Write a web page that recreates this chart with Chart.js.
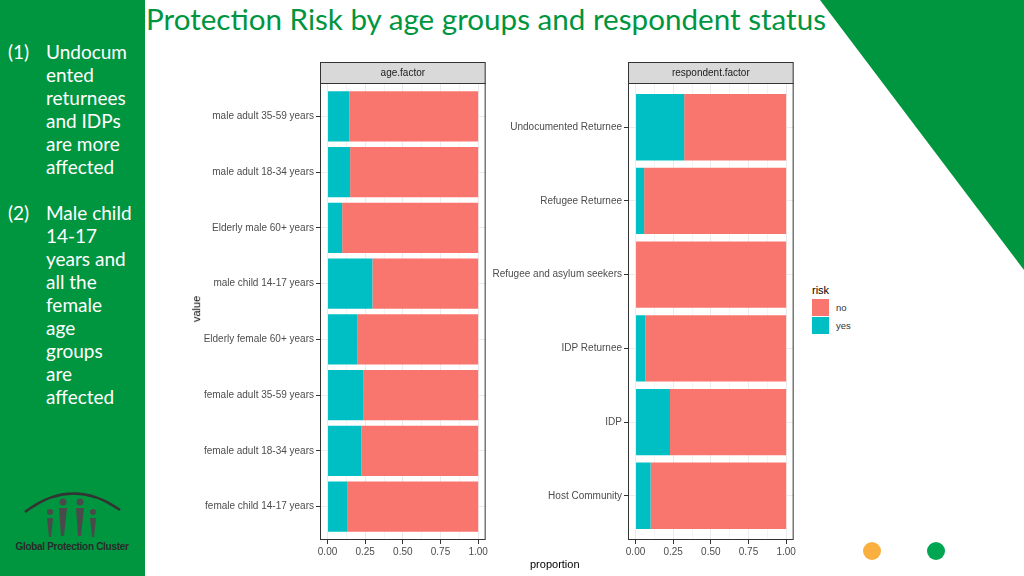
<!DOCTYPE html>
<html>
<head>
<meta charset="utf-8">
<script src="https://cdn.jsdelivr.net/npm/chart.js@4.4.1/dist/chart.umd.min.js"></script>
<style>
  body { margin: 0; width: 1024px; height: 576px; position: relative; overflow: hidden; background: #fff; font-family: "Liberation Sans", Arial, sans-serif; }
  #side { position: absolute; left: 0; top: 0; width: 145px; height: 576px; background: #00953f; }
  #notes { position: absolute; left: 8px; top: 40px; color: #fff; font-family: Lato, sans-serif; font-size: 19px; line-height: 23px; }
  .note { display: flex; margin-bottom: 23px; }
  .note .num { width: 38px; flex: none; }
  #title { position: absolute; left: 146px; top: 1px; color: #00953f; font-family: Lato, sans-serif; font-size: 29.6px; white-space: nowrap; }
  #deco { position: absolute; left: 0; top: 0; }
  .panel { position: absolute; }
  .axis-title { position: absolute; font-size: 11px; color: #000; }
  #legend { position: absolute; left: 812px; top: 284px; font-size: 11px; color: #000; }
  #legend .row { display: flex; align-items: center; height: 18px; font-size: 9.5px; color: #333; }
  #legend .key { width: 17px; height: 17px; margin-right: 7px; }
</style>
</head>
<body>
<div id="side"></div>
<svg id="deco" width="1024" height="576">
  <polygon points="820,0 1024,0 1024,270" fill="#00953f"/>
  <circle cx="872" cy="551" r="9" fill="#f9b040"/>
  <circle cx="936" cy="551" r="9" fill="#00a651"/>
  <!-- logo -->
  <path d="M25 512 Q72 476 120 510" stroke="#333" stroke-width="2.5" fill="none"/>
  <g fill="#4a4a4a">
    <circle cx="50" cy="512" r="3"/><path d="M47 518 L53 518 L51 537 L49 537 Z"/>
    <circle cx="63" cy="502" r="3.5"/><path d="M59 508 L67 508 L64 536 L61 536 Z"/>
    <circle cx="80" cy="502" r="3.5"/><path d="M76 508 L84 508 L81 536 L78 536 Z"/>
    <circle cx="93" cy="512" r="3"/><path d="M90 518 L96 518 L94 537 L92 537 Z"/>
  </g>
  <text x="72" y="550" text-anchor="middle" font-family="Liberation Sans, Arial" font-weight="bold" font-size="10" fill="#2b2b2b" letter-spacing="-0.3">Global Protection Cluster</text>
</svg>
<div id="notes">
  <div class="note"><div class="num">(1)</div><div>Undocum<br>ented<br>returnees<br>and IDPs<br>are more<br>affected</div></div>
  <div class="note"><div class="num">(2)</div><div>Male child<br>14-17<br>years and<br>all the<br>female<br>age<br>groups<br>are<br>affected</div></div>
</div>
<div id="title">Protection Risk by age groups and respondent status</div>

<div class="panel" style="left:190px;top:62px;"><canvas id="ageChart" width="300" height="500"></canvas></div>
<div class="panel" style="left:490px;top:62px;"><canvas id="respChart" width="308" height="500"></canvas></div>

<div class="axis-title" style="left:183px;top:303px;transform:rotate(-90deg);">value</div>
<div class="axis-title" style="left:530px;top:558px;">proportion</div>
<div id="legend"></div>

<script>
// facet 1: age groups, top to bottom
const ageLabels = [
  "male adult 35-59 years", "male adult 18-34 years", "Elderly male 60+ years",
  "male child 14-17 years", "Elderly female 60+ years", "female adult 35-59 years",
  "female adult 18-34 years", "female child 14-17 years"
];
const ageYes = [0.146, 0.150, 0.097, 0.298, 0.200, 0.240, 0.225, 0.134];
const ageNo  = [0.854, 0.850, 0.903, 0.702, 0.800, 0.760, 0.775, 0.866];

// facet 2: respondent status, top to bottom
const respLabels = [
  "Undocumented Returnee", "Refugee Returnee", "Refugee and asylum seekers",
  "IDP Returnee", "IDP", "Host Community"
];
const respYes = [0.323, 0.057, 0.000, 0.066, 0.229, 0.100];
const respNo  = [0.677, 0.943, 1.000, 0.934, 0.771, 0.900];

const riskNames = ["no", "yes"];
const riskColors = ["#F8766D", "#00BFC4"];
const xTicks = [0, 0.125, 0.25, 0.375, 0.5, 0.625, 0.75, 0.875, 1];

const isMajor = (v) => Math.abs(v * 4 - Math.round(v * 4)) < 1e-6;

// strip on top + dark border round the panel, like facet_wrap + theme_bw
const facetFrame = {
  id: "facetFrame",
  afterDraw(chart, args, opts) {
    const { ctx, chartArea: a } = chart;
    const w = a.right - a.left;
    ctx.save();
    ctx.fillStyle = "#d9d9d9";
    ctx.fillRect(a.left, a.top - 21, w, 21);
    ctx.strokeStyle = "#333";
    ctx.lineWidth = 1;
    ctx.strokeRect(a.left + 0.5, a.top - 20.5, w - 1, 21);
    ctx.strokeRect(a.left + 0.5, a.top + 0.5, w - 1, a.bottom - a.top - 1);
    ctx.fillStyle = "#1a1a1a";
    ctx.font = '10px "Liberation Sans", Arial';
    ctx.textAlign = "center";
    ctx.textBaseline = "middle";
    ctx.fillText(opts.title, a.left + w / 2, a.top - 10);
    ctx.restore();
  }
};

function facetChart(id, labels, yes, no, stripTitle, axisWidth) {
  const n = labels.length;
  const toPoints = (vals) => vals.map((v, i) => ({ x: v, y: i }));
  return new Chart(document.getElementById(id), {
    type: "bar",
    data: {
      datasets: [
        { label: riskNames[1], data: toPoints(yes), backgroundColor: riskColors[1], barPercentage: 0.9, categoryPercentage: 1 },
        { label: riskNames[0], data: toPoints(no), backgroundColor: riskColors[0], barPercentage: 0.9, categoryPercentage: 1 }
      ]
    },
    options: {
      indexAxis: "y",
      responsive: false,
      animation: false,
      layout: { padding: { top: 21, right: 3, left: 0, bottom: 0 } },
      plugins: { legend: { display: false }, tooltip: { enabled: false }, facetFrame: { title: stripTitle } },
      scales: {
        x: {
          type: "linear",
          stacked: true,
          min: -0.05,
          max: 1.05,
          afterBuildTicks: (s) => { s.ticks = xTicks.map((v) => ({ value: v })); },
          afterFit: (s) => { s.height = 22; },
          ticks: {
            autoSkip: false,
            maxRotation: 0,
            padding: 2,
            color: "#4d4d4d",
            font: { size: 10, family: '"Liberation Sans", Arial' },
            callback: (v) => (isMajor(v) ? v.toFixed(2) : "")
          },
          grid: {
            color: (c) => (isMajor(c.tick.value) ? "#ebebeb" : "#f4f4f4"),
            tickColor: (c) => (isMajor(c.tick.value) ? "#333" : "rgba(0,0,0,0)"),
            tickLength: 4
          },
          border: { display: false }
        },
        y: {
          type: "linear",
          stacked: true,
          reverse: true,
          offset: false,
          min: -0.6,
          max: n - 1 + 0.6,
          afterBuildTicks: (s) => { s.ticks = labels.map((_, i) => ({ value: i })); },
          afterFit: (s) => { s.width = axisWidth; },
          ticks: {
            autoSkip: false,
            padding: 2,
            color: "#4d4d4d",
            font: { size: 10, family: '"Liberation Sans", Arial' },
            callback: (v) => labels[v]
          },
          grid: { color: "#ebebeb", tickColor: "#333", tickLength: 4, offset: false },
          border: { display: false }
        }
      }
    },
    plugins: [facetFrame]
  });
}

facetChart("ageChart", ageLabels, ageYes, ageNo, "age.factor", 130);
facetChart("respChart", respLabels, respYes, respNo, "respondent.factor", 138);

document.getElementById("legend").innerHTML =
  '<div style="margin-bottom:2px">risk</div>' +
  riskNames.map((name, i) =>
    `<div class="row"><span class="key" style="background:${riskColors[i]}"></span>${name}</div>`
  ).join("");
</script>
</body>
</html>
